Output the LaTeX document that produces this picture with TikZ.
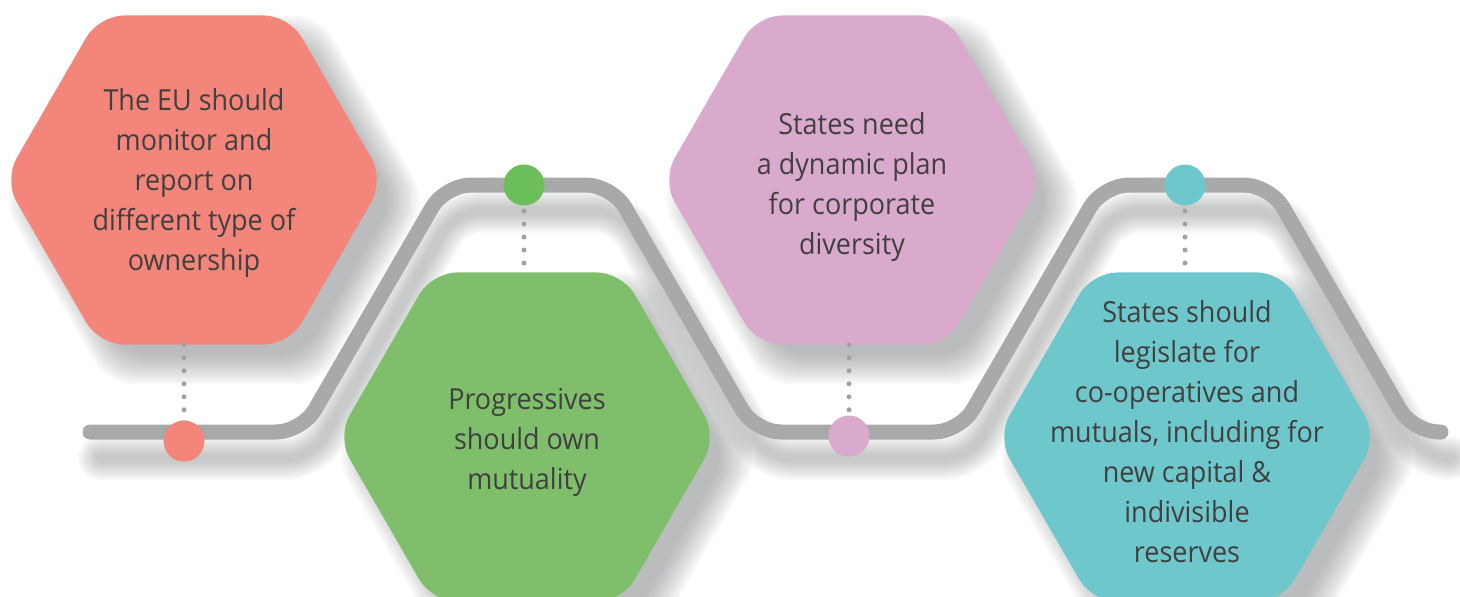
\documentclass[tikz,border=0pt]{standalone}
\usepackage{fontspec}
\setmainfont{Open Sans}[FakeStretch=0.93]
\usetikzlibrary{shapes.geometric}
\definecolor{hexred}{HTML}{F4857A}
\definecolor{hexgreen}{HTML}{7FBF6B}
\definecolor{dotgreen}{HTML}{6CBE5A}
\definecolor{hexpink}{HTML}{DAAACD}
\definecolor{hexteal}{HTML}{6EC8CB}
\definecolor{trackcol}{HTML}{A8AAAA}
\definecolor{shcol}{HTML}{5A5C5E}
\definecolor{textcol}{HTML}{404040}
\definecolor{dotcol}{HTML}{A0A2A4}
\newcommand\hexshadow[2]{%
  \foreach \k in {0,...,11}{%
    \pgfmathsetmacro\rr{180+3*\k}%
    \fill[shcol, opacity=0.045, rounded corners=26pt]
      ({#1+20+\rr},{#2+20}) -- ({#1+20+\rr/2},{#2+20+0.866*\rr}) --
      ({#1+20-\rr/2},{#2+20+0.866*\rr}) -- ({#1+20-\rr},{#2+20}) --
      ({#1+20-\rr/2},{#2+20-0.866*\rr}) -- ({#1+20+\rr/2},{#2+20-0.866*\rr}) -- cycle;
  }}
\newcommand\trackpath{(90,432) -- (302,432) -- (445,185) -- (612,185) -- (755,432) -- (960,432) -- (1103,185) -- (1270,185) -- (1413,432) -- (1441,432)}
\begin{document}
\begin{tikzpicture}[x=1pt,y=-1pt,
  hexa/.style={regular polygon, regular polygon sides=6, minimum size=380pt,
    inner sep=0pt, rounded corners=25pt, draw=none},
  txt/.style={align=center, text=textcol, font=\fontsize{29}{40}\selectfont, inner sep=0pt},
  dotnode/.style={circle, minimum size=41pt, inner sep=0pt},
  dotline/.style={draw=dotcol, line width=5pt, line cap=round, dash pattern=on 0pt off 13pt},
  track/.style={draw=trackcol, line width=15pt, line cap=round, rounded corners=26pt}]
\useasboundingbox (0,0) rectangle (1460,597);
% shadows
\hexshadow{194}{180}
\hexshadow{527}{437}
\hexshadow{852}{180}
\hexshadow{1187}{437}
\begin{scope}[shift={(10,26)}]
  \foreach \w in {8,12,...,44}{
    \draw[shcol, opacity=0.04, line width=\w pt, line cap=round, rounded corners=26pt] \trackpath;
  }
\end{scope}
% track
\draw[track] \trackpath;
% hexagons
\node[hexa, fill=hexred]   (h1) at (194,180) {};
\node[hexa, fill=hexgreen] (h2) at (527,437) {};
\node[hexa, fill=hexpink]  (h3) at (852,180) {};
\node[hexa, fill=hexteal]  (h4) at (1187,437) {};
\node[txt] (t1) at ([yshift=-3pt]h1.center) {The EU should\\monitor and\\report on\\different type of\\ownership};
\node[txt] (t2) at ([yshift=-5pt]h2.center) {Progressives\\should own\\mutuality};
\node[txt] (t3) at ([yshift=-7pt]h3.center) {States need\\a dynamic plan\\for corporate\\diversity};
\node[txt] (t4) at ([yshift=5pt]h4.center) {States should\\legislate for\\co-operatives and\\mutuals, including for\\new capital \&\\indivisible\\reserves};
% dots
\coordinate (d1c) at (184,441);
\coordinate (d2c) at (524,185);
\coordinate (d3c) at (849,436);
\coordinate (d4c) at (1185,185);
\draw[dotline] (h1.south -| d1c) -- (d1c);
\draw[dotline] (d2c) -- (d2c |- h2.north);
\draw[dotline] (h3.south -| d3c) -- (d3c);
\draw[dotline] (d4c) -- (d4c |- h4.north);
\node[dotnode, fill=hexred]   (d1) at (d1c) {};
\node[dotnode, fill=dotgreen] (d2) at (d2c) {};
\node[dotnode, fill=hexpink]  (d3) at (d3c) {};
\node[dotnode, fill=hexteal]  (d4) at (d4c) {};
\end{tikzpicture}
\end{document}
